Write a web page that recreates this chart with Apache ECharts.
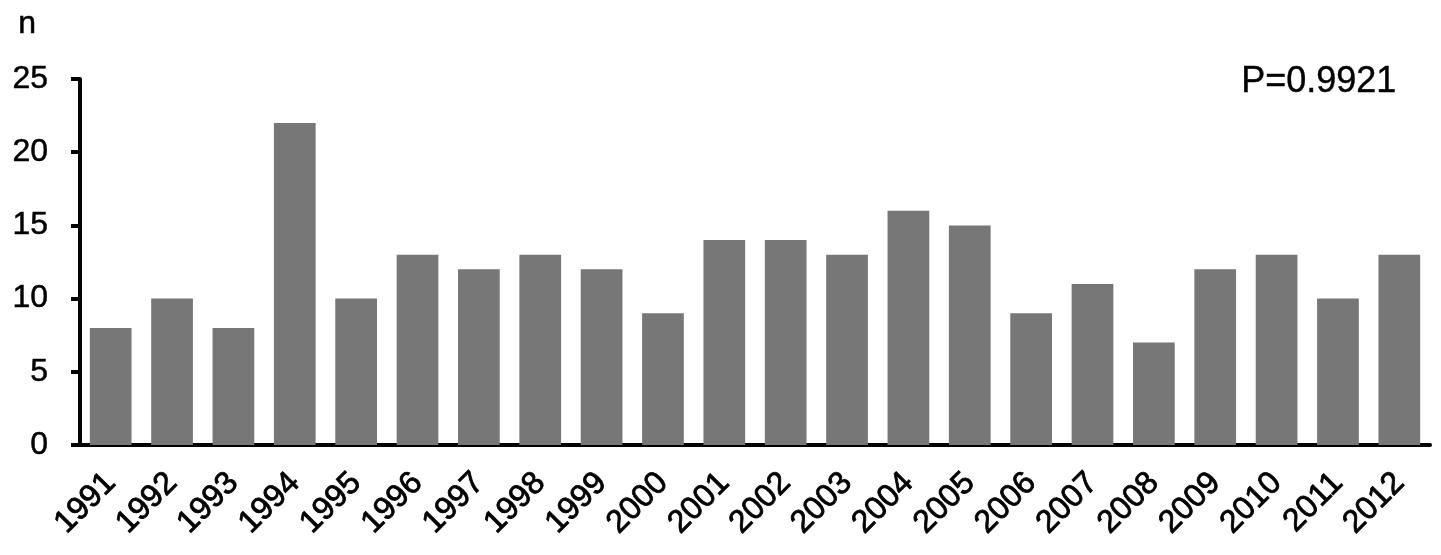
<!DOCTYPE html>
<html><head><meta charset="utf-8">
<script src="https://cdn.jsdelivr.net/npm/echarts@6/dist/echarts.min.js"></script>
<style>html,body{margin:0;padding:0;background:#fff}#c{width:1441px;height:555px}</style>
</head><body><div id="c"></div>
<script>
const categories = ['1991','1992','1993','1994','1995','1996','1997','1998','1999','2000','2001','2002','2003','2004','2005','2006','2007','2008','2009','2010','2011','2012'];
const values = [8,10,8,22,10,13,12,13,12,9,14,14,13,16,15,9,11,7,12,13,10,13];
const yTicks = {min:0, max:25, interval:5};
const axisTitle = 'n';
const pLabel = 'P=0.9921';

const chart = echarts.init(document.getElementById('c'), null, {renderer:'canvas'});
const font = 'Liberation Sans, Arial, sans-serif';
chart.setOption({
  animation:false,
  backgroundColor:'#fff',
  grid:{left:80, right:11, top:79, bottom:110, containLabel:false},
  graphic:[
    {type:'text', left:18, top:8, style:{text:axisTitle, font:'32px ' + font, fill:'#000', stroke:'#000', lineWidth:0.5}},
    {type:'text', left:1241, top:64, style:{text:pLabel, font:'36px ' + font, fill:'#000', stroke:'#000', lineWidth:0.4}}
  ],
  xAxis:{
    type:'category', data:categories,
    axisLine:{lineStyle:{color:'#000', width:4}},
    axisTick:{show:false},
    axisLabel:{rotate:45, margin:33, color:'#000', fontSize:32, fontFamily:font, interval:0,
      textBorderColor:'#000', textBorderWidth:0.8}
  },
  yAxis:{
    type:'value', min:yTicks.min, max:yTicks.max, interval:yTicks.interval,
    axisLine:{show:true, lineStyle:{color:'#000', width:4}},
    axisTick:{show:true, length:9, lineStyle:{color:'#000', width:4}},
    splitLine:{show:false},
    axisLabel:{margin:32, color:'#000', fontSize:32, fontFamily:font,
      textBorderColor:'#000', textBorderWidth:0.5}
  },
  series:[{
    type:'bar', data:values, barCategoryGap:'32%',
    itemStyle:{color:'#777777'}
  }]
});
</script></body></html>
